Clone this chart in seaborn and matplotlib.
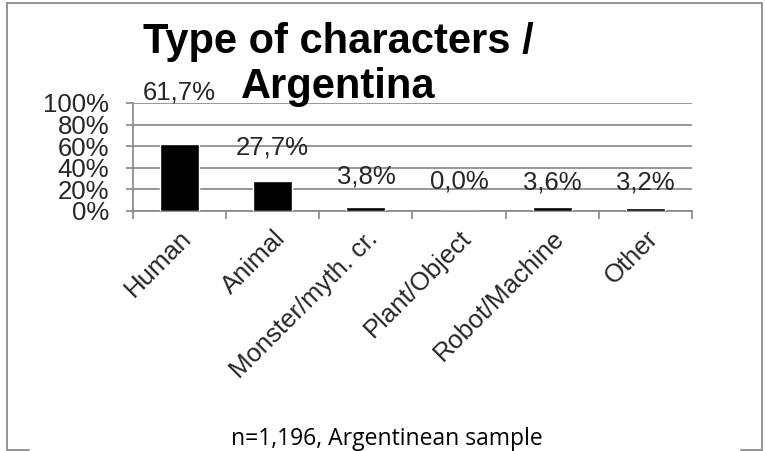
import matplotlib
matplotlib.use('Agg')
import matplotlib.pyplot as plt
import seaborn as sns
import pandas as pd
from matplotlib.lines import Line2D

# data
categories = ['Human', 'Animal', 'Monster/myth. cr.', 'Plant/Object', 'Robot/Machine', 'Other']
shares = [61.7, 27.7, 3.8, 0.0, 3.6, 3.2]
label_offsets = [37, 24, 22, 21, 18, 18]  # points above bar top

df = pd.DataFrame({'Type': categories, 'Share': shares})

sns.set_style('white')
plt.rcParams['font.family'] = ['Liberation Sans', 'DejaVu Sans']

W, H = 765, 451
fig = plt.figure(figsize=(W / 100, H / 100), dpi=100)
ax = fig.add_axes([133 / W, 1 - 211 / H, (692 - 133) / W, (211 - 103) / H])

grey = '#868686'
fs = 18.5
sns.barplot(data=df, x='Type', y='Share', color='black', width=0.42,
            saturation=1, ax=ax, zorder=3)

ax.set_xlim(-0.5, len(categories) - 0.5)
ax.set_ylim(0, 100)
ax.set_yticks(range(0, 101, 20))
ax.set_yticklabels([f'{v}%' for v in range(0, 101, 20)], fontsize=fs)
ax.yaxis.grid(True, color=grey, linewidth=1.2, zorder=0)
ax.set_axisbelow(True)

ax.set_xticks(range(len(categories)))
ax.set_xticklabels(categories, rotation=45, ha='right', rotation_mode='anchor', fontsize=fs)
ax.set_xticks([i - 0.5 for i in range(len(categories) + 1)], minor=True)
ax.tick_params(axis='x', which='major', length=0, pad=11)
ax.tick_params(axis='x', which='minor', length=5.5, width=1.2, color=grey, direction='out', bottom=True)
ax.tick_params(axis='y', length=5, width=1.2, color=grey, direction='out', left=True, pad=12)

for s in ['top', 'right']:
    ax.spines[s].set_visible(False)
for s in ['left', 'bottom']:
    ax.spines[s].set_color(grey)
    ax.spines[s].set_linewidth(1.2)

ax.set_xlabel('')
ax.set_ylabel('')

for i, (v, dy) in enumerate(zip(shares, label_offsets)):
    ax.annotate(f'{v:.1f}%'.replace('.', ','), (i, v), xytext=(0, dy),
                textcoords='offset points', ha='center', va='center',
                fontsize=fs, zorder=4)

# two-line title
fig.text(338 / W, 1 - 53 / H, 'Type of characters /', ha='center', va='baseline',
         fontsize=30, fontweight='bold', color='black')
fig.text(338 / W, 1 - 98 / H, 'Argentina', ha='center', va='baseline',
         fontsize=30, fontweight='bold', color='black')

fig.text(387 / W, 1 - 445 / H, 'n=1,196, Argentinean sample', ha='center', va='baseline',
         fontsize=16.5, family=['Open Sans', 'DejaVu Sans'], color='black')

# outer frame
frame = '#8c8c8c'
def fline(x0, y0, x1, y1):
    fig.add_artist(Line2D([x0 / W, x1 / W], [1 - y0 / H, 1 - y1 / H],
                          transform=fig.transFigure, color=frame, linewidth=1.3))
fline(7, 3, 762, 3)
fline(7, 3, 7, 450)
fline(762, 3, 762, 450)
fline(7, 450, 29, 450)
fline(741, 450, 762, 450)

fig.savefig('out.png', dpi=100)
